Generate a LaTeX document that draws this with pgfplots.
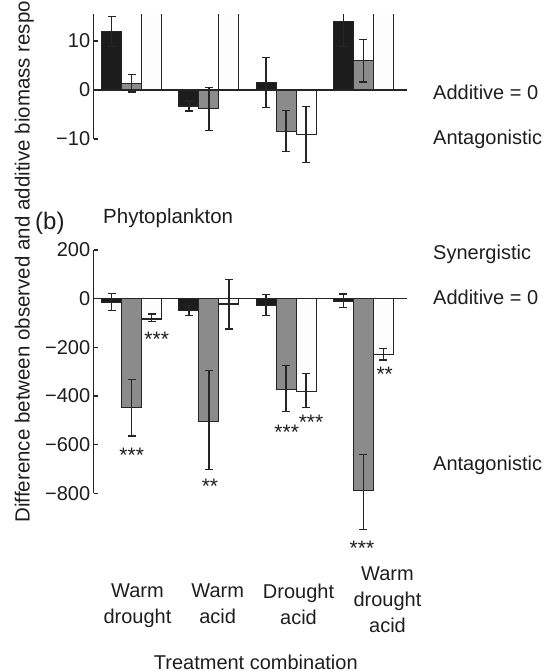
\documentclass[border=0pt]{standalone}
\usepackage{fontspec}
\setmainfont{Liberation Sans}
\usepackage{pgfplots}
\pgfplotsset{compat=1.18}

\definecolor{barblack}{HTML}{1C1C1C}
\definecolor{bargray}{HTML}{8B8B8B}
\definecolor{barwhite}{HTML}{FDFDFD}
\definecolor{edge}{HTML}{252525}
\definecolor{txt}{HTML}{1E1E1E}

\newcommand{\lab}{\fontsize{20}{26}\selectfont}
\newcommand{\stars}{\fontsize{21}{21}\selectfont}

\pgfplotsset{
  panel/.style={
    scale only axis, width=313.3pt,
    xmin=-0.492, xmax=3.566,
    ybar=0pt, bar width=20pt,
    clip mode=individual,
    axis line style={draw=none},
    xtick=\empty, ytick pos=left,
    major tick length=4pt, tick align=inside,
    tick style={draw=edge, line width=1.2pt},
    yticklabel style={font=\lab, text=txt},
  },
  bars/.style={draw=edge, line width=1.1pt, fill=#1,
    error bars/.cd, y dir=both, y explicit,
    error bar style={draw=edge, line width=1.3pt},
    error mark options={rotate=90, draw=edge, line width=1.3pt, mark size=4pt}},
}

\begin{document}
\begin{tikzpicture}
\path[use as bounding box] (0,0) rectangle (548pt,671pt);
\clip (0,0) rectangle (548pt,671pt);

% top panel (cut off at the top in the source)
\begin{axis}[panel, at={(93.7pt,502.6pt)}, anchor=south west,
  height=154.35pt, ymin=-16, ymax=15.5,
  ytick={-10,0,10}, yticklabels={−10,0,10}]
\addplot[bars=barblack] coordinates {
  (0,11.9) +- (0,3.05) (1,-3.27) +- (0,1.0) (2,1.5) +- (0,5.1) (3,13.9) +- (0,5)};
\addplot[bars=bargray] coordinates {
  (0,1.4) +- (0,1.8) (1,-3.85) +- (0,4.35) (2,-8.4) +- (0,4.15) (3,5.95) +- (0,4.3)};
\addplot[bars=barwhite] coordinates {
  (0,40) +- (0,0) (1,40) +- (0,0) (2,-9.05) +- (0,5.68) (3,40) +- (0,0)};
\draw[edge, line width=1.3pt] (axis cs:-0.492,-10) -- (axis cs:-0.492,15.5);
\draw[edge, line width=1.3pt] (axis cs:-0.492,0) -- (axis cs:3.566,0);
\end{axis}

% (b) phytoplankton
\begin{axis}[panel, at={(93.7pt,177.7pt)}, anchor=south west,
  height=243.3pt, ymin=-800, ymax=200, clip=false,
  ytick={-800,-600,-400,-200,0,200},
  yticklabels={−800,−600,−400,−200,0,200}]
\addplot[bars=barblack] coordinates {
  (0,-14) += (0,36) -= (0,35)
  (1,-47) += (0,20) -= (0,21)
  (2,-29) += (0,47) -= (0,41)
  (3,-12.5) += (0,31.5) -= (0,23)};
\addplot[bars=bargray] coordinates {
  (0,-448) +- (0,116.5)
  (1,-505.6) += (0,209.6) -= (0,196)
  (2,-372.5) += (0,97.5) -= (0,92)
  (3,-790) += (0,150) -= (0,158)};
\addplot[bars=barwhite] coordinates {
  (0,-83.5) += (0,20.5) -= (0,9.5)
  (1,-22) += (0,101) -= (0,103)
  (2,-381) += (0,74) -= (0,67)
  (3,-229) += (0,25) -= (0,23)};
\draw[edge, line width=1.3pt] (axis cs:-0.492,-800) -- (axis cs:-0.492,200);
\draw[edge, line width=1.3pt] (axis cs:-0.492,0) -- (axis cs:3.566,0);
\begin{scope}[every node/.style={font=\stars, text=txt, anchor=base, yshift=-12.4pt, inner sep=0pt}]
\node at (axis cs:0,-622) {***};
\node at (axis cs:0.324,-146.5) {***};
\node at (axis cs:1.014,-748) {**};
\node at (axis cs:2.008,-527.5) {***};
\node at (axis cs:2.323,-487.6) {***};
\node at (axis cs:2.983,-1005.5) {***};
\node at (axis cs:3.277,-290) {**};
\end{scope}
\end{axis}

\begin{scope}[every node/.style={text=txt, inner sep=0pt}]
\node[font=\fontsize{20.5}{24}\selectfont, rotate=90, anchor=base west] at (29.5pt,148.3pt)
  {Difference between observed and additive biomass response};
\node[font=\fontsize{24}{28}\selectfont, anchor=base west] at (35pt,441pt) {(b)};
\node[font=\fontsize{20.5}{24}\selectfont, anchor=base west] at (103pt,447.7pt) {Phytoplankton};
\node[font=\lab, anchor=base west] at (433pt,571pt) {Additive = 0};
\node[font=\lab, anchor=base west] at (433pt,526pt) {Antagonistic};
\node[font=\lab, anchor=base west] at (433pt,411pt) {Synergistic};
\node[font=\lab, anchor=base west] at (433pt,366pt) {Additive = 0};
\node[font=\lab, anchor=base west] at (433pt,200.3pt) {Antagonistic};
\node[font=\lab, align=center, anchor=north] at (137.5pt,87pt) {Warm\\drought};
\node[font=\lab, align=center, anchor=north] at (217.7pt,87pt) {Warm\\acid};
\node[font=\lab, align=center, anchor=north] at (298.5pt,87pt) {Drought\\acid};
\node[font=\lab, align=center, anchor=north] at (387.5pt,104.3pt) {Warm\\drought\\acid};
\node[font=\lab, anchor=base] at (255.8pt,1.7pt) {Treatment combination};
\end{scope}
\end{tikzpicture}
\end{document}
